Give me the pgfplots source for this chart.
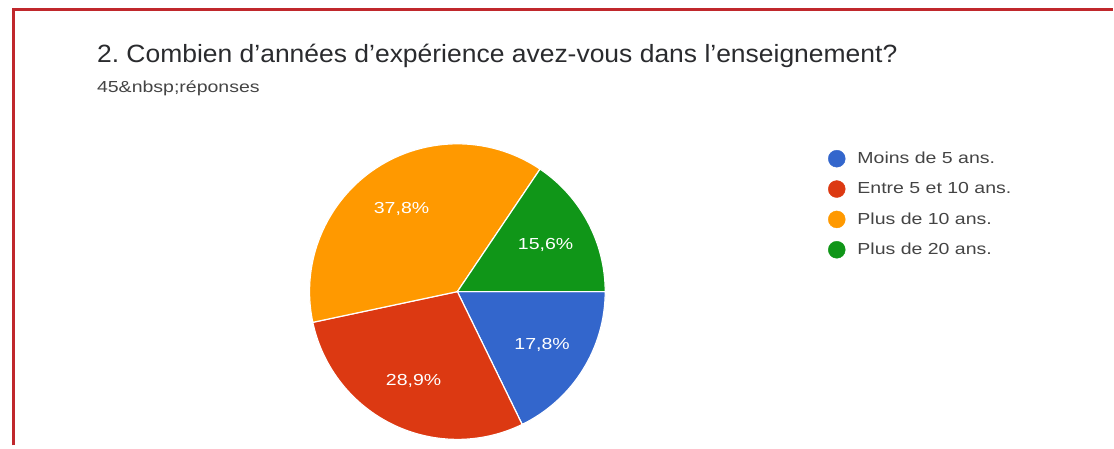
\documentclass[border=0pt]{standalone}
\usepackage{fontspec}
\setmainfont{Liberation Sans}
\newfontfamily\titlefont[FakeStretch=1.06]{Liberation Sans}
\newfontfamily\widefont[FakeStretch=1.22]{Liberation Sans}
\usepackage{pgfplots}
\pgfplotsset{compat=1.18}
\usepackage{pgfplotstable}
\frenchspacing

\definecolor{slice0}{HTML}{3366CC}
\definecolor{slice1}{HTML}{DC3912}
\definecolor{slice2}{HTML}{FF9900}
\definecolor{slice3}{HTML}{109618}
\definecolor{titlegray}{HTML}{2A2B2E}
\definecolor{subgray}{HTML}{444444}
\definecolor{framered}{HTML}{C0282C}

% 45 responses, 8 degrees per response, start at 3 o'clock, clockwise
\pgfplotstableread{
x y count start idx
458 292 8 0 0
458 292 13 -64 1
458 292 17 -168 2
458 292 7 -304 3
}\piedata

\begin{document}
\begin{tikzpicture}
\begin{axis}[
    scale only axis,
    width=1114pt, height=446pt,
    xmin=0, xmax=1114, ymin=0, ymax=446,
    y dir=reverse,
    hide axis,
    clip=false,
    legend cell align=left,
    legend image code/.code={\fill[#1] (8.5pt,0pt) circle (8.5pt); \path (0pt,0pt) (27pt,0pt);},
    legend style={draw=none, fill=none, at={(axis cs:829,150)}, anchor=north west,
        font=\widefont\fontsize{16}{18}\selectfont, text=subgray, row sep=13pt,
        inner sep=0pt},
]
\path (axis cs:0,0) rectangle (axis cs:1114,446);
\draw[framered, line width=3pt] (axis cs:14,446) -- (axis cs:14,10) -- (axis cs:1114,10);

\addplot[
    forget plot,
    scatter, only marks, mark=*, mark size=0pt,
    point meta=\thisrow{count},
    visualization depends on={\thisrow{count}\as\pieCnt},
    visualization depends on={\thisrow{start}\as\pieStart},
    visualization depends on={\thisrow{idx}\as\pieIdx},
    scatter/@pre marker code/.code={
        \pgfmathsetmacro\pieDelta{-8*\pieCnt}
        \pgfmathsetmacro\pieMid{\pieStart+\pieDelta/2}
        \pgfmathsetmacro\piePct{\pieCnt/45*100}
        \pgfmathtruncatemacro\pieI{\pieIdx}
        \filldraw[fill=slice\pieI, draw=white, line width=1.2pt]
            (0pt,0pt) -- (\pieStart:148pt)
            arc[start angle=\pieStart, delta angle=\pieDelta, radius=148pt] -- cycle;
        \node[text=white, font=\widefont\fontsize{16}{18}\selectfont] at (\pieMid:100pt)
            {\pgfmathprintnumber[fixed, fixed zerofill, precision=1, use comma,
              assume math mode=true]{\piePct}\%};
    },
    scatter/@post marker code/.code={},
] table[x=x, y=y] {\piedata};

\addlegendimage{slice0}
\addlegendentry{Moins de 5 ans.}
\addlegendimage{slice1}
\addlegendentry{Entre 5 et 10 ans.}
\addlegendimage{slice2}
\addlegendentry{Plus de 10 ans.}
\addlegendimage{slice3}
\addlegendentry{Plus de 20 ans.}

\node[anchor=base west, inner sep=0pt, text=titlegray, font=\titlefont\fontsize{25}{29}\selectfont]
    at (axis cs:97,63) {2. Combien d’années d’expérience avez-vous dans l’enseignement?};
\node[anchor=base west, inner sep=0pt, text=subgray, font=\widefont\fontsize{16}{18}\selectfont]
    at (axis cs:97,93) {45\&nbsp;réponses};
\end{axis}
\end{tikzpicture}
\end{document}
